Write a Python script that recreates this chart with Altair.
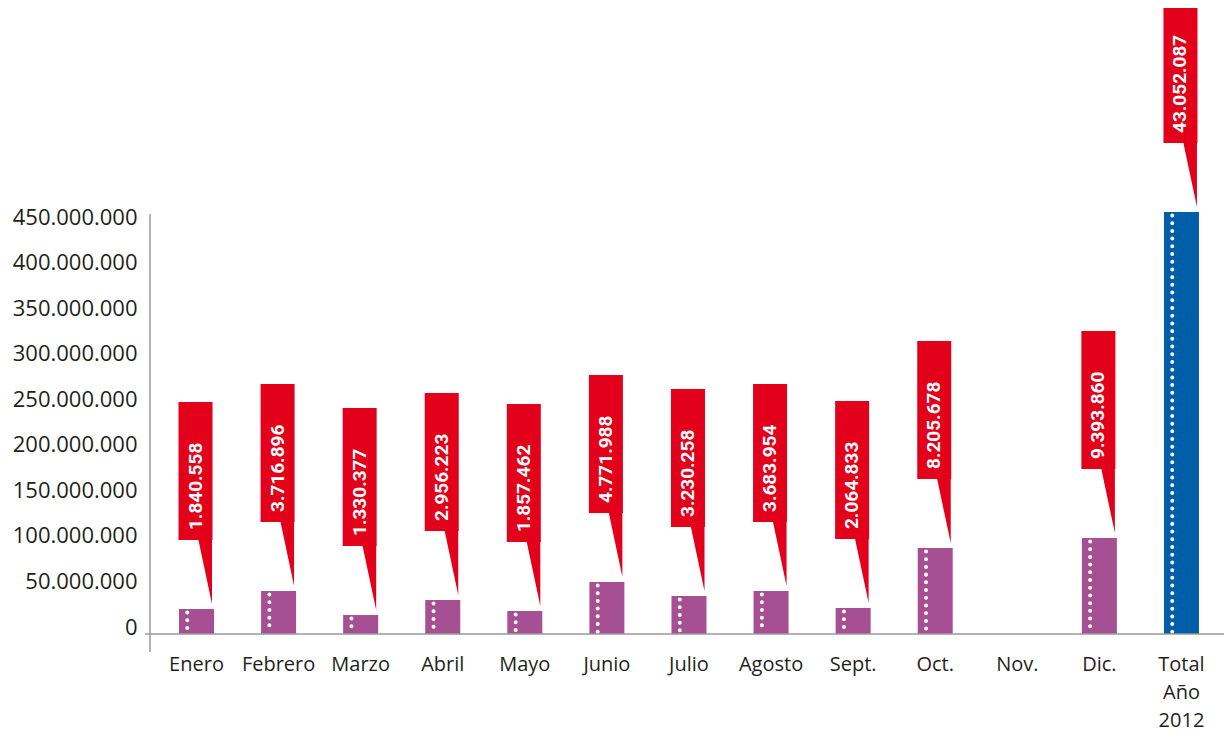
import altair as alt
import pandas as pd

months = ["Enero", "Febrero", "Marzo", "Abril", "Mayo", "Junio", "Julio",
          "Agosto", "Sept.", "Oct.", "Nov.", "Dic.", "Total Año 2012"]
values = [27400000, 47200000, 20900000, 37300000, 25200000, 57100000, 41700000,
          47200000, 28500000, 94400000, 0, 105400000, 463200000]
counts = [1840558, 3716896, 1330377, 2956223, 1857462, 4771988, 3230258,
          3683954, 2064833, 8205678, 0, 9393860, 43052087]
kinds = ["mes"] * 12 + ["total"]
y_ticks = [0, 50000000, 100000000, 150000000, 200000000, 250000000,
           300000000, 350000000, 400000000, 450000000]

df = pd.DataFrame({"mes": months, "valor": values, "cantidad": counts, "tipo": kinds})
df["etiqueta"] = df["cantidad"].map(lambda v: f"{v:,}".replace(",", "."))

PURPLE = "#A64F92"
BLUE = "#005EA8"
RED = "#E2001A"
AXIS = "#9a9a9a"
TXT = "#231F20"

W, H = 1074, 410

x_scale = alt.Scale(paddingInner=0, paddingOuter=0.0424, align=0.785, round=False)
x_enc = alt.X("mes:N", sort=months, scale=x_scale,
              axis=alt.Axis(title=None, labelAngle=0, domain=False, ticks=False, tickSize=0,
                            labelPadding=36, labelBaseline="alphabetic", labelFont="Open Sans",
                            labelFontSize=20, labelColor=TXT, labelLineHeight=28,
                            labelOverlap=False, labelExpr="split(datum.label, ' ')"))
x_plain = alt.X("mes:N", sort=months, scale=x_scale)
y_enc = alt.Y("valor:Q",
              scale=alt.Scale(domain=[0, 450000000], nice=False, zero=True),
              axis=alt.Axis(title=None, values=y_ticks, domain=False, ticks=False, tickSize=0,
                            grid=False, labelPadding=13, labelBaseline="alphabetic",
                            labelFont="Open Sans", labelFontSize=22, labelColor=TXT,
                            labelExpr="replace(format(datum.value, ','), regexp(',', 'g'), '.')"))

base = alt.Chart(df)

bars = base.mark_bar(width=35).encode(
    x=x_enc, y=y_enc,
    color=alt.Color("tipo:N", scale=alt.Scale(domain=["mes", "total"], range=[PURPLE, BLUE]),
                    legend=None),
)

dots = base.transform_filter("datum.valor > 0").mark_rule(
    color="white", strokeWidth=4, strokeCap="round", strokeDash=[0.01, 7.7],
    xOffset=-9.2, yOffset=3.5, y2Offset=-1,
).encode(x=x_plain, y="valor:Q", y2=alt.datum(0))

callouts = base.transform_filter("datum.cantidad > 0")

boxes = callouts.mark_bar(width=34, xOffset=-1, yOffset=-207, y2Offset=-69, color=RED).encode(
    x=x_plain, y="valor:Q", y2="valor:Q")

pointers = callouts.mark_point(
    shape="M0,0L-0.212,-1L0,-1Z", size=17424, filled=True, color=RED, opacity=1,
    strokeWidth=0, xOffset=15.5, yOffset=-5,
).encode(x=x_plain, y="valor:Q")

texts = callouts.mark_text(
    angle=270, align="left", baseline="middle", font="Roboto", fontWeight="bold",
    fontSize=19, color="white", xOffset=-1, yOffset=-79,
).encode(x=x_plain, y="valor:Q", text="etiqueta:N")

y_line = alt.Chart(pd.DataFrame({"a": [0]})).mark_rule(color=AXIS, strokeWidth=1.5).encode(
    x=alt.value(0), y=alt.value(-10), y2=alt.value(H + 18))
x_line = alt.Chart(pd.DataFrame({"a": [0]})).mark_rule(color=AXIS, strokeWidth=1.5).encode(
    x=alt.value(-5), x2=alt.value(W), y=alt.value(H))

chart = alt.layer(bars, dots, boxes, pointers, texts, x_line, y_line).properties(
    width=W, height=H, autosize="none",
    padding={"left": 142, "top": 216, "right": 0, "bottom": 97},
    background="white",
).configure_view(stroke=None)

chart.save("out.html", embed_options={"renderer": "svg", "actions": False})
